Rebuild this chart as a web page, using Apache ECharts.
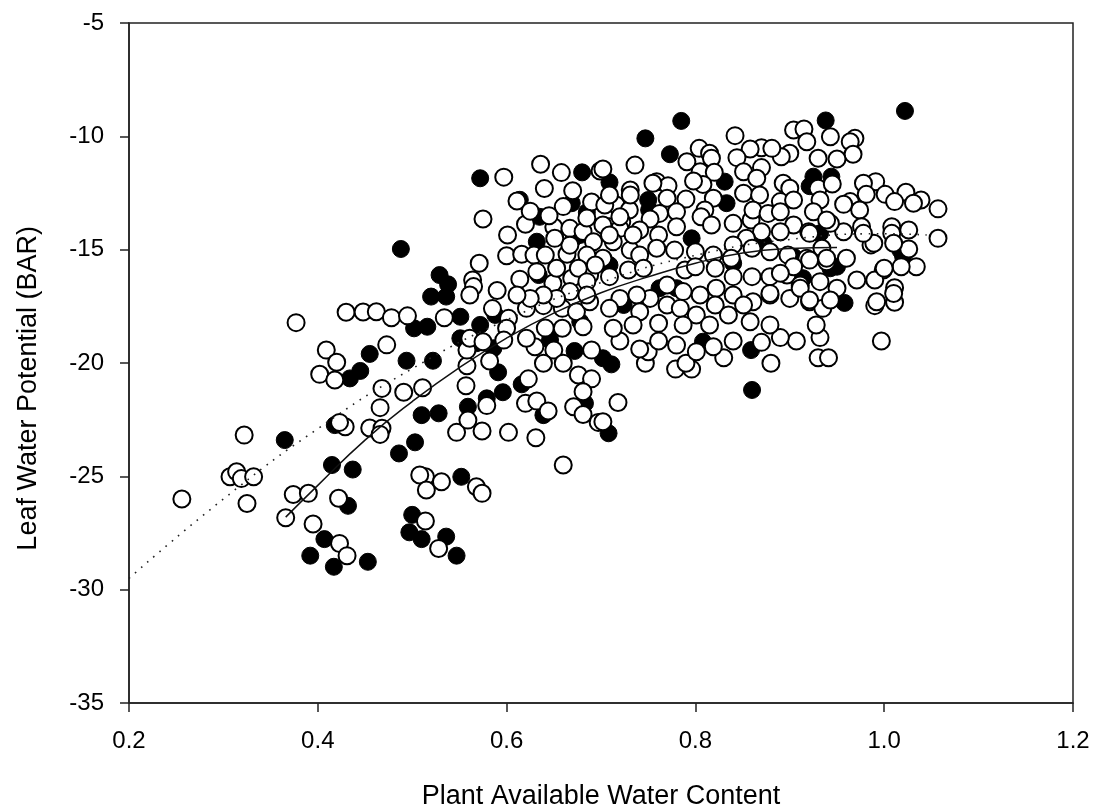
<!DOCTYPE html>
<html>
<head>
<meta charset="utf-8">
<script src="https://cdn.jsdelivr.net/npm/echarts@6/dist/echarts.min.js"></script>
<style>html,body{margin:0;padding:0;background:#fff;}#c{width:1096px;height:812px;}</style>
</head>
<body>
<div id="c"></div>
<script>
var xTitle = "Plant Available Water Content";
var yTitle = "Leaf Water Potential (BAR)";
var xTicks = [0.2, 0.4, 0.6, 0.8, 1.0, 1.2];
var yTicks = [-35, -30, -25, -20, -15, -10, -5];

// open (white) circles
var openPoints = [
[0.256,-26.0],[0.322,-23.18],[0.307,-25.02],[0.314,-24.8],[0.319,-25.1],[0.332,-25.02],[0.325,-26.2],[0.374,-25.8],[0.39,-25.75],[0.366,-26.83],[0.395,-27.1],[0.423,-27.96],[0.431,-28.5],[0.422,-25.97],[0.429,-22.81],[0.423,-22.62],[0.455,-22.87],[0.409,-19.43],[0.42,-19.97],[0.402,-20.5],[0.418,-20.75],
[0.377,-18.22],[0.43,-17.76],[0.448,-17.75],[0.462,-17.74],[0.478,-18.0],[0.495,-17.92],[0.534,-18.0],
[0.597,-11.8],[0.636,-11.23],[0.658,-11.6],[0.699,-11.53],[0.611,-12.85],[0.575,-13.65],[0.601,-14.35],[0.62,-13.88],[0.65,-14.0],[0.66,-13.1],[0.69,-12.9],
[0.571,-15.6],[0.6,-15.27],[0.616,-15.2],[0.629,-15.24],[0.641,-15.24],[0.664,-15.2],[0.614,-16.3],[0.649,-16.48],[0.669,-16.26],[0.688,-16.12],[0.564,-16.34],[0.565,-16.63],[0.561,-17.0],
[0.602,-18.03],[0.621,-17.59],[0.639,-17.47],[0.659,-17.59],[0.674,-17.74],[0.688,-17.3],[0.6,-18.47],[0.641,-18.46],[0.659,-18.47],[0.681,-18.4],
[0.473,-19.2],[0.468,-21.12],[0.491,-21.29],[0.511,-21.09],[0.466,-21.97],[0.468,-22.88],[0.466,-23.15],[0.514,-25.02],[0.508,-24.94],[0.515,-25.6],[0.531,-25.24],[0.568,-25.46],[0.574,-25.75],[0.514,-26.97],[0.528,-28.18],[0.547,-23.06],[0.574,-23.0],[0.602,-23.06],[0.631,-23.3],[0.66,-24.5],[0.559,-22.52],[0.579,-21.88],[0.557,-21.0],[0.558,-20.12],[0.582,-19.91],[0.558,-19.43],[0.623,-20.7],[0.62,-21.78],[0.632,-21.68],[0.644,-22.12],[0.63,-19.28],[0.65,-19.43],[0.639,-20.01],[0.66,-20.01],[0.69,-19.43],[0.676,-20.53],[0.69,-20.7],[0.681,-21.27],[0.671,-21.93],[0.681,-22.27],[0.697,-22.62],
[0.561,-18.91],[0.575,-19.06],[0.597,-18.99],[0.621,-18.91],
[0.718,-21.74],[0.702,-22.59],[0.88,-20.01],[0.87,-19.09],[0.747,-20.01],[0.779,-20.27],[0.796,-20.27],[0.79,-20.01],[0.83,-19.77],[0.801,-19.5],[0.819,-19.28],[0.75,-19.5],[0.741,-19.38],[0.761,-19.03],[0.72,-19.03],[0.78,-19.21],[0.84,-19.03],[0.907,-19.03],[0.89,-18.88],[0.93,-19.77],[0.941,-19.77],[0.932,-18.88],[0.997,-19.03],
[0.969,-10.09],[0.964,-10.24],[0.967,-10.79],[0.943,-10.02],[0.991,-12.0],[0.978,-12.07],[0.981,-12.56],[1.001,-12.56],[1.023,-12.47],[1.039,-12.81],[1.031,-12.95],[1.057,-13.2],[1.011,-12.88],[0.964,-12.88],[0.974,-13.25],[0.957,-13.0],[1.057,-14.5],[1.026,-14.13],[1.008,-13.99],[1.008,-14.28],[0.976,-13.99],[0.957,-14.21],[1.026,-14.97],[1.034,-15.75],[1.018,-15.75],[0.999,-15.9],[0.986,-14.79],[0.96,-15.38],[0.971,-16.34],[0.99,-16.34],[1.011,-16.68],[1.011,-17.32],[0.99,-17.47],[0.95,-16.7],
[0.842,-9.97],[0.904,-9.72],[0.915,-9.68],[0.918,-10.24],[0.93,-10.97],[0.9,-10.75],[0.891,-10.9],[0.87,-10.5],[0.858,-10.56],[0.844,-10.94],[0.881,-10.53],[0.804,-10.53],[0.815,-10.75],[0.817,-10.97],[0.791,-11.12],[0.736,-11.27],[0.702,-11.44],
[0.731,-12.37],[0.759,-12.0],[0.771,-12.18],[0.805,-11.56],[0.82,-11.59],[0.808,-12.12],[0.798,-11.97],[0.851,-11.56],[0.87,-11.38],[0.865,-11.85],[0.851,-12.51],[0.868,-12.59],[0.893,-12.07],[0.9,-12.29],[0.89,-12.88],[0.904,-12.81],[0.93,-12.29],[0.932,-12.81],[0.925,-13.33],
[0.716,-13.03],[0.73,-13.25],[0.722,-13.77],[0.709,-13.99],[0.702,-13.91],
[0.77,-12.73],[0.79,-12.77],[0.819,-12.73],[0.81,-13.25],[0.78,-13.33],[0.762,-13.4],[0.752,-13.65],[0.78,-13.99],[0.806,-13.55],[0.817,-13.91],
[0.84,-13.84],[0.859,-13.69],[0.861,-13.25],[0.877,-13.4],[0.89,-13.33],[0.904,-13.91],[0.92,-14.21],[0.943,-13.84],[0.934,-14.94],
[0.89,-14.21],[0.87,-14.21],[0.854,-14.5],[0.84,-14.79],[0.86,-14.94],[0.879,-15.09],[0.898,-15.24],[0.918,-15.38],[0.939,-15.53],
[0.741,-14.13],[0.761,-14.35],[0.72,-14.06],[0.713,-14.65],[0.731,-15.02],[0.741,-15.24],[0.759,-14.94],[0.778,-15.02],[0.8,-15.09],[0.819,-15.24],[0.838,-15.38],
[0.702,-15.38],[0.709,-16.19],[0.729,-15.9],[0.745,-15.82],[0.77,-16.56],[0.789,-15.9],[0.8,-15.75],[0.821,-15.82],[0.84,-16.19],[0.86,-16.19],[0.879,-16.19],[0.897,-16.12],[0.911,-16.56],[0.932,-16.41],[0.879,-17.0],[0.861,-17.3],[0.84,-17.0],[0.822,-16.7],[0.805,-17.0],[0.787,-16.85],[0.77,-17.44],[0.752,-17.15],[0.738,-17.0],[0.72,-17.15],[0.709,-17.59],[0.741,-17.74],[0.784,-17.59],[0.801,-17.88],[0.821,-17.44],[0.835,-17.88],[0.851,-17.44],[0.9,-17.15],[0.921,-17.3],[0.935,-17.59],[0.928,-18.32],[0.879,-18.32],[0.858,-18.18],[0.815,-18.32],[0.787,-18.32],[0.761,-18.25],[0.734,-18.32],[0.713,-18.47],
[0.667,-14.06],[0.681,-14.2],[0.692,-14.65],[0.667,-14.8],[0.685,-15.24],[0.676,-15.82],[0.694,-15.68],[0.685,-16.41],[0.667,-16.85],[0.685,-17.0],[0.653,-17.15],[0.639,-17.0],[0.625,-17.15],[0.611,-17.0],[0.632,-15.97],[0.653,-15.82],[0.651,-14.5],
[0.704,-13.03],[0.72,-13.55],[0.709,-14.35],[0.734,-14.35],[0.755,-12.07],[0.731,-12.59],[0.709,-12.59],
[0.921,-14.28],[0.939,-13.69],[0.989,-14.72],[1.01,-14.72],[1.0,-15.82],[0.939,-15.38],[0.921,-15.46],[0.904,-15.75],[0.89,-16.04],[0.879,-16.93],[0.911,-16.7],[0.943,-17.22],[0.921,-17.22],[0.992,-17.3],[1.01,-16.93],[0.978,-14.28],
[0.64,-12.3],[0.67,-12.4],[0.625,-13.3],[0.685,-13.6],[0.645,-13.5],[0.59,-16.8],[0.585,-17.6],[0.945,-12.1],[0.95,-11.0]
];

// filled (black) circles
var filledPoints = [
[0.365,-23.4],[0.415,-24.5],[0.437,-24.7],[0.432,-26.3],[0.407,-27.77],[0.392,-28.5],[0.417,-28.99],[0.453,-28.77],[0.418,-22.74],[0.434,-20.68],[0.445,-20.35],[0.455,-19.6],
[0.572,-11.85],[0.68,-11.59],[0.614,-12.8],[0.488,-14.97],[0.635,-13.55],[0.669,-12.95],[0.685,-13.35],
[0.529,-16.12],[0.538,-16.53],[0.52,-17.07],[0.536,-17.07],[0.502,-18.47],[0.516,-18.4],[0.551,-17.96],[0.588,-17.88],[0.572,-18.32],
[0.494,-19.9],[0.522,-19.9],[0.51,-22.3],[0.528,-22.22],[0.503,-23.5],[0.486,-23.99],[0.552,-25.02],[0.5,-26.7],[0.497,-27.47],[0.51,-27.77],[0.536,-27.66],[0.547,-28.5],
[0.559,-21.93],[0.579,-21.56],[0.596,-21.29],[0.591,-20.41],[0.616,-20.94],[0.639,-22.3],[0.672,-19.47],[0.683,-21.78],
[0.551,-18.91],[0.568,-19.13],[0.586,-19.35],[0.646,-18.99],
[0.708,-23.1],[0.711,-20.06],[0.702,-19.79],[0.86,-21.19],[0.859,-19.43],[0.808,-19.06],
[1.022,-8.88],[0.938,-9.3],[0.944,-11.78],[0.958,-17.35],[0.943,-15.82],[1.02,-15.3],
[0.785,-9.32],[0.747,-10.09],[0.773,-10.79],[0.831,-12.0],[0.709,-12.03],[0.925,-11.78],[0.75,-12.81],[0.751,-13.25],[0.833,-12.95],[0.796,-14.5],
[0.762,-16.7],[0.78,-16.7],[0.724,-17.44],[0.914,-16.26],[0.84,-15.6],[0.702,-15.53],
[0.709,-15.68],[0.671,-14.5],[0.678,-18.18],[0.95,-15.75],[1.017,-15.02],[0.921,-12.2],[0.932,-14.28],[0.872,-14.72],[0.904,-15.31],
[0.632,-14.65],[0.678,-14.35],[0.634,-16.12]
];

// fitted curves
var solidFitX = [0.366, 0.40, 0.45, 0.50, 0.55, 0.60, 0.65, 0.70, 0.75, 0.80, 0.85, 0.90, 0.95];
var solidFitY = [-26.8, -25.4, -23.4, -21.7, -20.2, -18.9, -17.8, -16.9, -16.2, -15.6, -15.15, -14.95, -14.9];
var dottedFitX = [0.2, 0.3, 0.4, 0.5, 0.6, 0.7, 0.8, 0.9, 1.0, 1.045];
var dottedFitY = [-29.5, -26.0, -22.9, -20.25, -18.1, -16.45, -15.25, -14.55, -14.3, -14.35];

function zip(a, b) { return a.map(function (v, i) { return [v, b[i]]; }); }

var font = "'Liberation Sans', Arial, sans-serif";
var chart = echarts.init(document.getElementById('c'), null, {renderer: 'canvas'});
chart.setOption({
  animation: false,
  backgroundColor: '#fff',
  grid: {left: 129, right: 23, top: 23, bottom: 109, outerBoundsMode: 'none', containLabel: false, show: true, borderColor: '#222', borderWidth: 1.5, backgroundColor: 'transparent'},
  xAxis: {
    type: 'value', min: xTicks[0], max: xTicks[xTicks.length - 1], interval: 0.2,
    name: xTitle, nameLocation: 'middle', nameGap: 80,
    nameTextStyle: {fontFamily: font, fontSize: 27, color: '#000'},
    axisLine: {show: true, lineStyle: {color: '#222', width: 1.5}},
    axisTick: {show: true, inside: false, length: 9, lineStyle: {color: '#222', width: 1.5}},
    axisLabel: {margin: 26, fontFamily: font, fontSize: 24, color: '#000', formatter: function (v) { return v.toFixed(1); }},
    splitLine: {show: false}
  },
  yAxis: {
    type: 'value', min: yTicks[0], max: yTicks[yTicks.length - 1], interval: 5,
    axisLine: {show: true, lineStyle: {color: '#222', width: 1.5}},
    axisTick: {show: true, inside: false, length: 9, lineStyle: {color: '#222', width: 1.5}},
    axisLabel: {margin: 25, fontFamily: font, fontSize: 24, color: '#000'},
    splitLine: {show: false}
  },
  graphic: [{
    type: 'text', left: 15, top: 226, rotation: Math.PI / 2,
    style: {text: yTitle, font: '27px ' + font, fill: '#000'}
  }],
  series: [
    {type: 'scatter', data: filledPoints, symbol: 'circle', symbolSize: 17, itemStyle: {color: '#000', borderColor: '#000', borderWidth: 1, opacity: 1}, z: 2},
    {type: 'scatter', data: openPoints, symbol: 'circle', symbolSize: 17, itemStyle: {color: '#fff', borderColor: '#000', borderWidth: 2, opacity: 1}, z: 3},
    {type: 'line', data: zip(dottedFitX, dottedFitY), smooth: true, symbol: 'none', lineStyle: {color: '#222', width: 1.6, type: [1.6, 6.5]}, z: 4},
    {type: 'line', data: zip(solidFitX, solidFitY), smooth: true, symbol: 'none', lineStyle: {color: '#111', width: 1.5}, z: 5}
  ]
});
</script>
</body>
</html>
